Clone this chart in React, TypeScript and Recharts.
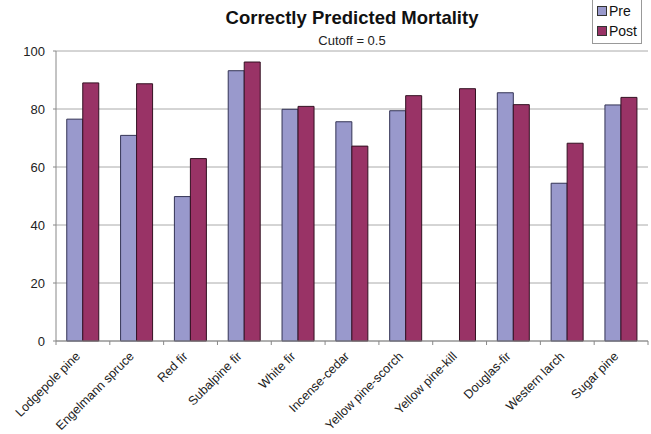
import { BarChart, Bar, XAxis, YAxis, CartesianGrid, Legend } from 'recharts'

const species = [
  'Lodgepole pine',
  'Engelmann spruce',
  'Red fir',
  'Subalpine fir',
  'White fir',
  'Incense-cedar',
  'Yellow pine-scorch',
  'Yellow pine-kill',
  'Douglas-fir',
  'Western larch',
  'Sugar pine',
]

const preValues = [76.5, 70.9, 49.8, 93.2, 79.9, 75.6, 79.4, null, 85.6, 54.4, 81.4]
const postValues = [89.0, 88.7, 62.9, 96.2, 80.9, 67.2, 84.6, 87.0, 81.5, 68.2, 84.0]

const seriesNames = ['Pre', 'Post']
const yTicks = [0, 20, 40, 60, 80, 100]

const chartData = species.map((name, i) => ({
  name,
  Pre: preValues[i],
  Post: postValues[i],
}))

const W = 651
const H = 434
const PLOT_LEFT = 56
const PLOT_RIGHT = 648
const PLOT_TOP = 51
const PLOT_BOTTOM = 341
const BAND = (PLOT_RIGHT - PLOT_LEFT) / species.length

const FONT = 'Liberation Sans, Arial, sans-serif'

function CategoryTick(props: any) {
  const { x, y, payload, index } = props
  const ax = x - 2
  const ay = y + 8
  return (
    <g>
      {index === 0 && (
        <line x1={x - BAND / 2} x2={x - BAND / 2} y1={PLOT_BOTTOM} y2={PLOT_BOTTOM + 4} stroke="#888" />
      )}
      <line x1={x + BAND / 2} x2={x + BAND / 2} y1={PLOT_BOTTOM} y2={PLOT_BOTTOM + 4} stroke="#888" />
      <text
        x={ax}
        y={ay}
        transform={`rotate(-45, ${ax}, ${ay})`}
        textAnchor="end"
        fontSize={12.5}
        fontFamily={FONT}
        fill="#222"
      >
        {payload.value}
      </text>
    </g>
  )
}

function LegendBox(props: any) {
  const items = [...(props.payload || [])].sort(
    (a: any, b: any) => seriesNames.indexOf(a.value) - seriesNames.indexOf(b.value)
  )
  return (
    <div
      style={{
        border: '1px solid #999',
        background: '#fff',
        padding: '4px 4px 2px 4px',
        fontFamily: FONT,
        fontSize: 14,
        color: '#111',
      }}
    >
      {items.map((item: any) => (
        <div key={item.value} style={{ display: 'flex', alignItems: 'center', height: 20 }}>
          <span
            style={{
              display: 'inline-block',
              width: 8,
              height: 8,
              background: item.color,
              border: '1px solid #333',
              marginRight: 2,
            }}
          />
          {item.value}
        </div>
      ))}
    </div>
  )
}

export default function App() {
  return (
    <div style={{ position: 'absolute', left: 0, top: 0, width: W, height: H, background: '#fff' }}>
      <div
        style={{
          position: 'absolute',
          left: PLOT_LEFT,
          width: PLOT_RIGHT - PLOT_LEFT,
          top: 7,
          textAlign: 'center',
          fontFamily: FONT,
          fontWeight: 'bold',
          fontSize: 18.5,
          color: '#111',
        }}
      >
        Correctly Predicted Mortality
      </div>
      <div
        style={{
          position: 'absolute',
          left: PLOT_LEFT,
          width: PLOT_RIGHT - PLOT_LEFT,
          top: 33,
          textAlign: 'center',
          fontFamily: FONT,
          fontSize: 13,
          color: '#222',
        }}
      >
        Cutoff = 0.5
      </div>
      <BarChart
        width={W}
        height={H}
        data={chartData}
        margin={{ top: PLOT_TOP, right: W - PLOT_RIGHT, bottom: 0, left: 0 }}
        barCategoryGap="20%"
        barGap={0}
      >
        <CartesianGrid horizontal vertical={false} stroke="#aaa" />
        <XAxis
          dataKey="name"
          height={H - PLOT_BOTTOM}
          interval={0}
          tickLine={false}
          axisLine={{ stroke: '#888' }}
          tick={<CategoryTick />}
        />
        <YAxis
          domain={[0, 100]}
          ticks={yTicks}
          width={PLOT_LEFT}
          tickSize={3}
          tickMargin={8}
          axisLine={{ stroke: '#888' }}
          tickLine={{ stroke: '#888' }}
          tick={{ fontSize: 13, fontFamily: FONT, fill: '#222' }}
        />
        <YAxis
          yAxisId="frame"
          orientation="right"
          width={0}
          tick={false}
          tickLine={false}
          axisLine={{ stroke: '#aaa' }}
        />
        <Legend
          layout="vertical"
          verticalAlign="middle"
          align="center"
          content={<LegendBox />}
          wrapperStyle={{ position: 'absolute', left: 592, top: -4, width: 'auto', height: 'auto' }}
        />
        <Bar dataKey="Pre" fill="#9999cc" stroke="#333355" strokeWidth={1} isAnimationActive={false} />
        <Bar dataKey="Post" fill="#993366" stroke="#331122" strokeWidth={1} isAnimationActive={false} />
      </BarChart>
    </div>
  )
}
